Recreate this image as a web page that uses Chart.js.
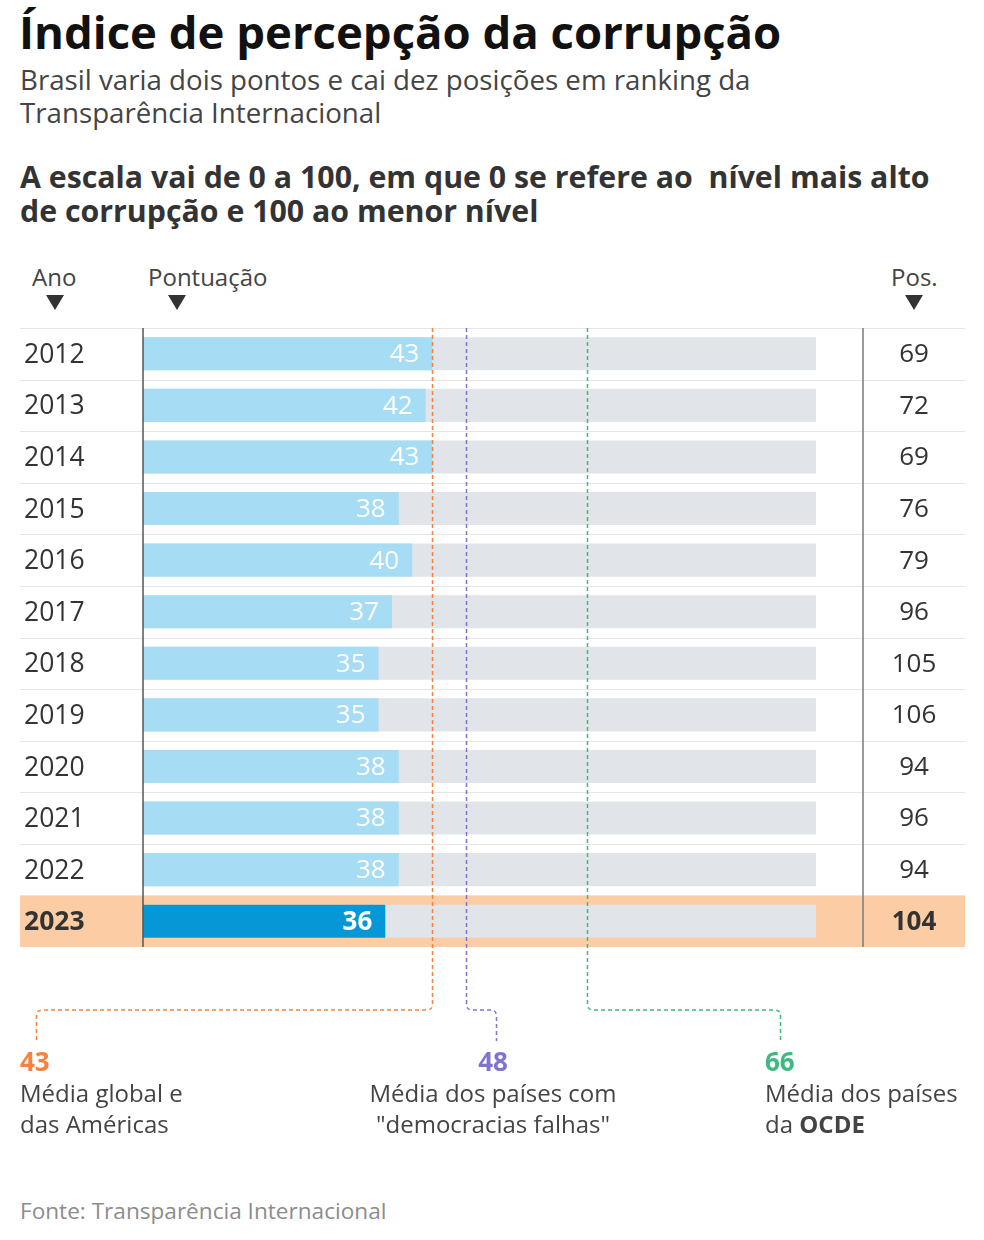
<!DOCTYPE html>
<html lang="pt-BR">
<head>
<meta charset="utf-8">
<script src="https://cdn.jsdelivr.net/npm/chart.js@4.4.1/dist/chart.umd.min.js"></script>
<style>
  html, body { margin: 0; padding: 0; background: #fff; }
  body { width: 984px; height: 1240px; position: relative; overflow: hidden; font-family: "Open Sans", "Noto Sans", sans-serif; color: #333; }
  .abs { position: absolute; white-space: nowrap; }
  #title { left: 19px; top: 0px; font-size: 45.5px; font-weight: 700; color: #111; line-height: 62px; }
  #sub { left: 20px; top: 63px; font-size: 27.7px; color: #444; line-height: 33px; }
  #head { left: 20px; top: 160px; font-size: 30.3px; font-weight: 700; color: #333; line-height: 34px; }
  .colh { font-size: 24px; color: #444; line-height: 30px; }
  .tri { width: 0; height: 0; border-left: 9.5px solid transparent; border-right: 9.5px solid transparent; border-top: 15px solid #333; top: 295px; }
  .ann { font-size: 24px; color: #444; line-height: 31px; }
  .ann b.n { font-size: 26px; }
  #foot { left: 20px; top: 1196px; font-size: 22.6px; color: #8c8c8c; line-height: 30px; }
  #wrap { position: absolute; left: 0; top: 300px; width: 984px; height: 760px; }
</style>
</head>
<body>
<div id="title" class="abs">Índice de percepção da corrupção</div>
<div id="sub" class="abs">Brasil varia dois pontos e cai dez posições em ranking da<br>Transparência Internacional</div>
<div id="head" class="abs">A escala vai de 0 a 100, em que 0 se refere ao&nbsp; nível mais alto<br>de corrupção e 100 ao menor nível</div>

<div class="abs colh" style="left:32px; top:262px;">Ano</div>
<div class="abs tri" style="left:46px;"></div>
<div class="abs colh" style="left:148px; top:262px;">Pontuação</div>
<div class="abs tri" style="left:168px;"></div>
<div class="abs colh" style="left:891px; top:262px;">Pos.</div>
<div class="abs tri" style="left:905px;"></div>

<div id="wrap"><canvas id="c" width="984" height="760"></canvas></div>

<div class="abs ann" style="left:20px; top:1046px;"><b class="n" style="color:#f5823f;">43</b><br>Média global e<br>das Américas</div>
<div class="abs ann" style="left:368px; top:1046px; width:250px; text-align:center;"><b class="n" style="color:#8472d3;">48</b><br>Média dos países com<br>"democracias falhas"</div>
<div class="abs ann" style="left:765px; top:1046px;"><b class="n" style="color:#3dba7e;">66</b><br>Média dos países<br>da <b>OCDE</b></div>

<div id="foot" class="abs">Fonte: Transparência Internacional</div>

<script>
const years = ["2012","2013","2014","2015","2016","2017","2018","2019","2020","2021","2022","2023"];
const scores = [43, 42, 43, 38, 40, 37, 35, 35, 38, 38, 38, 36];
const positions = [69, 72, 69, 76, 79, 96, 105, 106, 94, 96, 94, 104];
const scaleTrack = [100, 100, 100, 100, 100, 100, 100, 100, 100, 100, 100, 100];
const refValues = [43, 48, 66];
const refColors = ["#f5823f", "#8472d3", "#3dba7e"];
const highlightIndex = 11;

const FONT = '"Open Sans", "Noto Sans", sans-serif';

const tablePlugin = {
  id: 'tablePlugin',
  beforeDraw(chart) {
    const { ctx, chartArea: ca, scales: { y } } = chart;
    const n = years.length;
    const rowH = (ca.bottom - ca.top) / n;
    ctx.save();
    // highlight row
    const hy = y.getPixelForValue(highlightIndex);
    ctx.fillStyle = '#fccda4';
    ctx.fillRect(20, hy - rowH / 2, 945, rowH);
    // separators
    ctx.strokeStyle = '#e6e6e6';
    ctx.lineWidth = 1;
    for (let i = 0; i < n; i++) {
      const yy = Math.round(ca.top + i * rowH) + 0.5;
      ctx.beginPath(); ctx.moveTo(20, yy); ctx.lineTo(965, yy); ctx.stroke();
    }
    ctx.restore();
  },
  afterDatasetsDraw(chart) {
    const { ctx, chartArea: ca, scales: { x, y } } = chart;
    ctx.save();
    // axis lines
    ctx.strokeStyle = '#555';
    ctx.lineWidth = 1.5;
    ctx.beginPath(); ctx.moveTo(ca.left, ca.top); ctx.lineTo(ca.left, ca.bottom); ctx.stroke();
    ctx.strokeStyle = '#7a7a7a';
    ctx.beginPath(); ctx.moveTo(863, ca.top); ctx.lineTo(863, ca.bottom); ctx.stroke();

    // value labels
    ctx.textBaseline = 'middle';
    const meta = chart.getDatasetMeta(0);
    meta.data.forEach((bar, i) => {
      ctx.fillStyle = '#fff';
      ctx.textAlign = 'right';
      ctx.font = (i === highlightIndex ? '700 ' : '400 ') + '26px ' + FONT;
      ctx.fillText(String(scores[i]), bar.x - 13, bar.y + 1);
      // positions column
      ctx.fillStyle = '#333';
      ctx.textAlign = 'center';
      ctx.fillText(String(positions[i]), 914, bar.y + 1);
    });

    // reference dashed lines & connectors
    const connY = ca.bottom + 63;
    const endY = ca.bottom + 94;
    const targets = [36, 496, 780];
    const r = 6;
    ctx.lineWidth = 1.5;
    ctx.setLineDash([4, 3]);
    refValues.forEach((v, k) => {
      const px = Math.round(x.getPixelForValue(v)) + 0.5;
      const tx = targets[k] + 0.5;
      const dir = tx < px ? -1 : 1;
      ctx.strokeStyle = refColors[k];
      ctx.beginPath();
      ctx.moveTo(px, ca.top);
      ctx.lineTo(px, connY - r);
      ctx.quadraticCurveTo(px, connY, px + dir * r, connY);
      ctx.lineTo(tx - dir * r, connY);
      ctx.quadraticCurveTo(tx, connY, tx, connY + r);
      ctx.lineTo(tx, endY);
      ctx.stroke();
    });
    ctx.restore();
  }
};

new Chart(document.getElementById('c'), {
  type: 'bar',
  data: {
    labels: years,
    datasets: [
      {
        data: scores,
        backgroundColor: scores.map((_, i) => i === highlightIndex ? '#0597d6' : '#a6ddf5'),
        grouped: false,
        barPercentage: 0.64,
        categoryPercentage: 1
      },
      {
        data: scaleTrack,
        backgroundColor: '#e1e5e9',
        grouped: false,
        barPercentage: 0.64,
        categoryPercentage: 1
      }
    ]
  },
  options: {
    indexAxis: 'y',
    responsive: false,
    animation: false,
    events: [],
    layout: { padding: { left: 24, right: 168, top: 28, bottom: 113 } },
    plugins: { legend: { display: false }, tooltip: { enabled: false } },
    scales: {
      x: { display: false, min: 0, max: 100 },
      y: {
        display: true,
        grid: { display: false },
        border: { display: false },
        afterFit(scale) { scale.width = 119; },
        ticks: {
          crossAlign: 'far',
          padding: 0,
          labelOffset: 1.5,
          color: '#333',
          font: (c) => ({ family: FONT, size: 26.5, weight: c.index === highlightIndex ? '700' : '400' })
        }
      }
    }
  },
  plugins: [tablePlugin]
});
</script>
</body>
</html>
